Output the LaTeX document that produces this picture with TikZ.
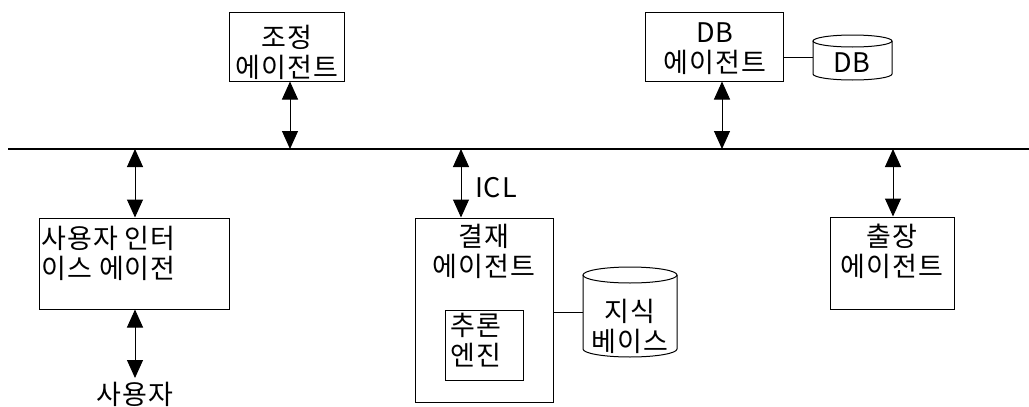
\documentclass[tikz,border=0pt]{standalone}
\usepackage{fontspec}
\setmainfont[LetterSpace=4]{Noto Sans CJK KR}
\usetikzlibrary{arrows.meta}
\begin{document}
\begin{tikzpicture}[x=1pt,y=-1pt, font=\fontsize{27}{30}\selectfont,
 box/.style={draw, line width=1pt, inner sep=0pt},
 lbl/.style={align=center, inner sep=0pt},
 link/.style={line width=1pt, {Triangle[width=16pt,length=18pt]}-{Triangle[width=16pt,length=18pt]}},
 plain/.style={line width=1pt}]
\useasboundingbox (0,0) rectangle (1029,407);
% bus
\coordinate (busL) at (8,149);
\coordinate (busR) at (1029,149);
\draw[line width=1.6pt] (busL) -- (busR);
\coordinate (tc) at (290,149);
\coordinate (tdb) at (722,149);
\coordinate (tui) at (135,149);
\coordinate (tpay) at (461,149);
\coordinate (ttrip) at (893,149);
% boxes
\node[box, minimum width=115pt, minimum height=69pt] (coord) at (286.5,46.5) {};
\node[box, minimum width=138pt, minimum height=69pt] (dbag) at (714,46.5) {};
\node[box, minimum width=190pt, minimum height=91pt] (ui) at (134,263.5) {};
\node[box, minimum width=138pt, minimum height=184pt] (pay) at (484,310) {};
\node[box, minimum width=78pt, minimum height=70pt] (inf) at (484,345) {};
\node[box, minimum width=124pt, minimum height=92pt] (trip) at (892,263) {};
% cylinders
\node[minimum width=79pt, minimum height=45pt, inner sep=0pt] (dbcyl) at (852.5,57.5) {};
\draw[plain] (813,41) -- (813,74) arc[start angle=180, end angle=360, x radius=39.5pt, y radius=6pt] -- (892,41);
\draw[plain] (852.5,41) ellipse [x radius=39.5pt, y radius=6pt];
\node[minimum width=94pt, minimum height=90pt, inner sep=0pt] (kb) at (630,312) {};
\draw[plain] (583,275) -- (583,349) arc[start angle=180, end angle=360, x radius=47pt, y radius=8pt] -- (677,275);
\draw[plain] (630,275) ellipse [x radius=47pt, y radius=8pt];
% labels
\node[lbl] (coordL) at (287,52) {조정\\에이전트};
\node[lbl] (dbagL) at (715,49) {DB\\에이전트};
\node[lbl, align=left, anchor=west] (uiL) at (41,253) {사용자 인터\\이스 에이전};
\node[lbl] (payL) at (484,251) {결재\\에이전트};
\node[lbl] (infL) at (476,340) {추론\\엔진};
\node[lbl] (tripL) at (892,251) {출장\\에이전트};
\node[lbl] (kbL) at (630,326) {지식\\베이스};
\node[lbl] (dbL) at (852,63) {DB};
\node[lbl] (user) at (135,394) {사용자};
\node[lbl] (icl) at (496,188) {ICL};
\coordinate (uend) at (135,378);
% connectors
\draw[link] (tc) -- (tc |- coord.south);
\draw[link] (tdb) -- (tdb |- dbag.south);
\draw[link] (tui) -- (tui |- ui.north);
\draw[link] (tpay) -- (tpay |- pay.north);
\draw[link] (ttrip) -- (ttrip |- trip.north);
\draw[link] (tui |- ui.south) -- (uend);
\draw[plain] (dbcyl.west -| dbag.east) -- (dbcyl.west);
\draw[plain] (kb.west -| pay.east) -- (kb.west);
\end{tikzpicture}
\end{document}
